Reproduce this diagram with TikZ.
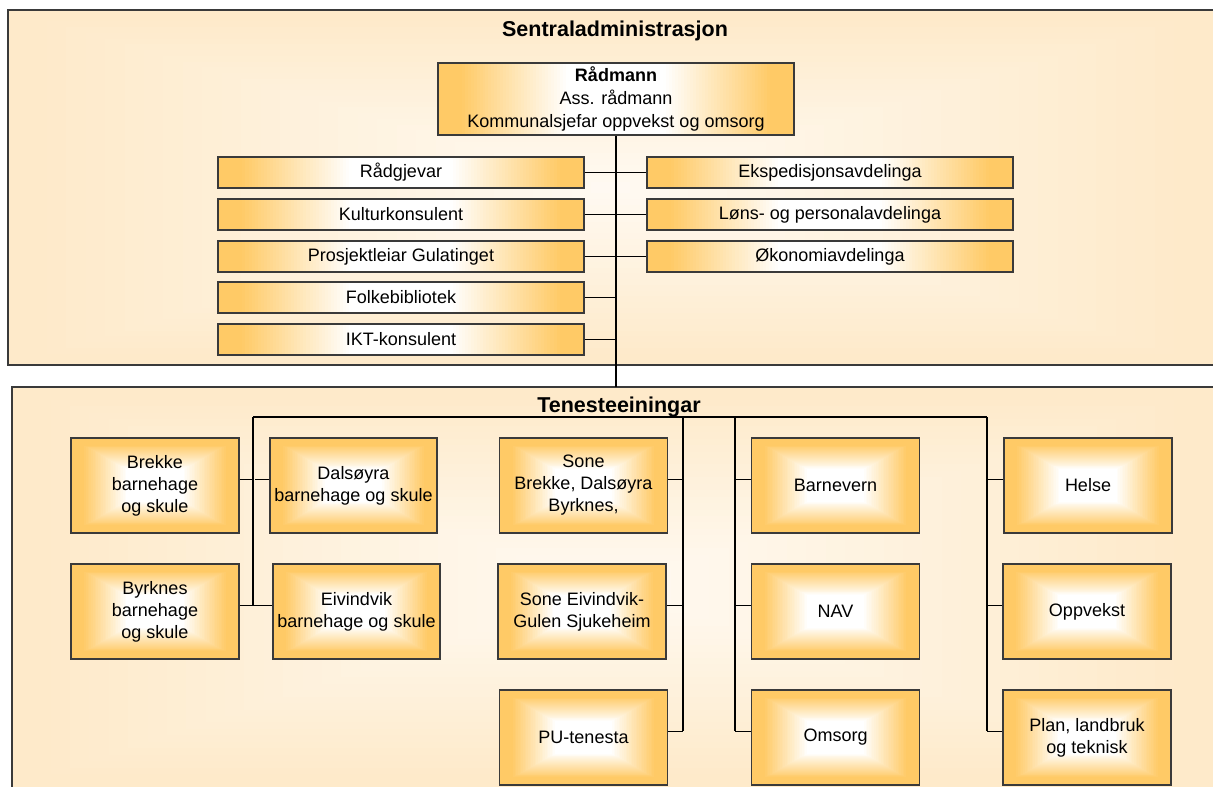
\documentclass[tikz,border=0pt]{standalone}
\usepackage{fontspec}
\setmainfont{Liberation Sans}
\usetikzlibrary{calc}
\definecolor{boxorange}{HTML}{FFCA66}
\definecolor{panelouter}{HTML}{FEEACA}
\definecolor{panelinner}{HTML}{FFFAF3}
\definecolor{boxline}{HTML}{3A3A3A}
\tikzset{
  grad/.style n args={5}{path picture={
    \foreach \i in {0,...,#5}{
      \pgfmathsetmacro{\gs}{\i/(2*#5+2)}
      \pgfmathsetmacro{\gw}{min(100,max(0,(\gs-#3)/(#4-#3)*100))}
      \fill[#2!\gw!#1] ($(path picture bounding box.south west)!\gs!(path picture bounding box.north east)$) rectangle ($(path picture bounding box.north east)!\gs!(path picture bounding box.south west)$);
    }}},
  hgrad/.style n args={5}{path picture={
    \foreach \i in {0,...,#5}{
      \pgfmathsetmacro{\gs}{\i/(2*#5+2)}
      \pgfmathsetmacro{\gw}{min(100,max(0,(\gs-#3)/(#4-#3)*100))}
      \fill[#2!\gw!#1] ($(path picture bounding box.south west)!\gs!(path picture bounding box.south east)$) rectangle ($(path picture bounding box.north east)!\gs!(path picture bounding box.north west)$);
    }}},
  wbox/.style={draw=boxline, line width=1.1pt, hgrad={boxorange}{white}{0.06}{0.36}{59}, minimum width=366pt, minimum height=31pt, inner sep=0pt, font=\fontsize{18}{22}\selectfont},
  rbox/.style={draw=boxline, line width=1.1pt, hgrad={boxorange}{white}{0.06}{0.36}{59}, minimum width=356pt, minimum height=72pt, inner sep=0pt, align=center, font=\fontsize{18}{23}\selectfont},
  ubox/.style={draw=boxline, line width=1.1pt, grad={boxorange}{white}{0.07}{0.33}{49}, minimum width=168pt, minimum height=95pt, inner sep=0pt, align=center, font=\fontsize{18}{22}\selectfont},
  conn/.style={line width=1.6pt, black},
  panelline/.style={line width=1.4pt, draw=boxline},
  title/.style={font=\bfseries\fontsize{21.5}{24}\selectfont, inner sep=0pt}
}
\begin{document}
\begin{tikzpicture}[x=1pt, y=1pt]
\useasboundingbox (0,0) rectangle (1213,787);
% panels
\path[grad={panelouter}{panelinner}{0.02}{0.5}{30}] (8,777) rectangle (1213,422);
\draw[panelline] (1213,777) -- (8,777) -- (8,422) -- (1213,422);
\path[grad={panelouter}{panelinner}{0.02}{0.5}{30}] (12,400) rectangle (1213,0);
\draw[panelline] (1213,400) -- (12,400) -- (12,0);

% Sentraladministrasjon
\node[rbox] (rad) at (616,688) {\textbf{Rådmann}\\Ass. rådmann\\Kommunalsjefar oppvekst og omsorg};
\node[wbox] (rg) at (401,614.5) {Rådgjevar};
\node[wbox] (kk) at (401,572.5) {Kulturkonsulent};
\node[wbox] (pg) at (401,530.5) {Prosjektleiar Gulatinget};
\node[wbox] (fb) at (401,489.5) {Folkebibliotek};
\node[wbox] (ikt) at (401,447.5) {IKT-konsulent};
\node[wbox] (ek) at (830,614.5) {Ekspedisjonsavdelinga};
\node[wbox] (lp) at (830,572.5) {Løns- og personalavdelinga};
\node[wbox] (ok) at (830,530.5) {Økonomiavdelinga};

\coordinate (lowtop) at (0,400);
\draw[conn] (rad.south) -- (rad.south |- lowtop);
\draw[conn] (rg.east) -- (ek.west);
\draw[conn] (kk.east) -- (lp.west);
\draw[conn] (pg.east) -- (ok.west);
\draw[conn] (fb.east) -- (fb.east -| rad.south);
\draw[conn] (ikt.east) -- (ikt.east -| rad.south);

% Tenesteeiningar
\node[ubox] (brekke) at (155,301.5) {Brekke\\barnehage\\og skule};
\node[ubox, minimum width=167pt] (dals) at (353.5,301.5) {Dalsøyra\\barnehage og skule};
\node[ubox] (byrk) at (155,175.5) {Byrknes\\barnehage\\og skule};
\node[ubox, minimum width=167pt] (eiv) at (356.5,175.5) {Eivindvik\\barnehage og skule};
\node[ubox] (sone1) at (583.5,301.5) {Sone\\Brekke, Dalsøyra\\Byrknes,};
\node[ubox] (sone2) at (582,175.5) {Sone Eivindvik-\\Gulen Sjukeheim};
\node[ubox] (pu) at (583.5,49.5) {PU-tenesta};
\node[ubox] (barn) at (835.5,301.5) {Barnevern};
\node[ubox] (nav) at (835.5,175.5) {NAV};
\node[ubox] (oms) at (835.5,49.5) {Omsorg};
\node[ubox] (helse) at (1088,301.5) {Helse};
\node[ubox] (opp) at (1087,175.5) {Oppvekst};
\node[ubox] (plan) at (1087,49.5) {Plan, landbruk\\og teknisk};

\coordinate (b1) at (253,370);
\coordinate (b2) at (683,370);
\coordinate (b3) at (735,370);
\coordinate (b4) at (987,370);
\draw[conn] (b1) -- (b4);

\coordinate (brekkeC) at ([yshift=6pt]brekke.east);
\coordinate (dalsC) at ([yshift=6pt]dals.west);
\coordinate (byrkC) at ([yshift=6pt]byrk.east);
\coordinate (eivC) at ([yshift=6pt]eiv.west);
\draw[conn] (b1) -- (b1 |- byrkC);
\draw[conn] (brekkeC) -- (brekkeC -| b1);
\draw[conn] (dalsC) -- ++(-14,0) coordinate (dalsEnd);
\draw[conn] (byrkC) -- (eivC);

\coordinate (sone1C) at ([yshift=6pt]sone1.east);
\coordinate (sone2C) at ([yshift=6pt]sone2.east);
\coordinate (puC) at ([yshift=6pt]pu.east);
\draw[conn] (b2) -- (b2 |- puC);
\draw[conn] (sone1C) -- (sone1C -| b2);
\draw[conn] (sone2C) -- (sone2C -| b2);
\draw[conn] (puC) -- (puC -| b2);

\coordinate (barnC) at ([yshift=6pt]barn.west);
\coordinate (navC) at ([yshift=6pt]nav.west);
\coordinate (omsC) at ([yshift=6pt]oms.west);
\draw[conn] (b3) -- (b3 |- omsC);
\draw[conn] (barnC) -- (barnC -| b3);
\draw[conn] (navC) -- (navC -| b3);
\draw[conn] (omsC) -- (omsC -| b3);

\coordinate (helseC) at ([yshift=6pt]helse.west);
\coordinate (oppC) at ([yshift=6pt]opp.west);
\coordinate (planC) at ([yshift=6pt]plan.west);
\draw[conn] (b4) -- (b4 |- planC);
\draw[conn] (helseC) -- (helseC -| b4);
\draw[conn] (oppC) -- (oppC -| b4);
\draw[conn] (planC) -- (planC -| b4);

% titles
\node[title] (t1) at (615,756) {Sentraladministrasjon};
\node[title] (t2) at (619,380) {Tenesteeiningar};
\end{tikzpicture}
\end{document}
